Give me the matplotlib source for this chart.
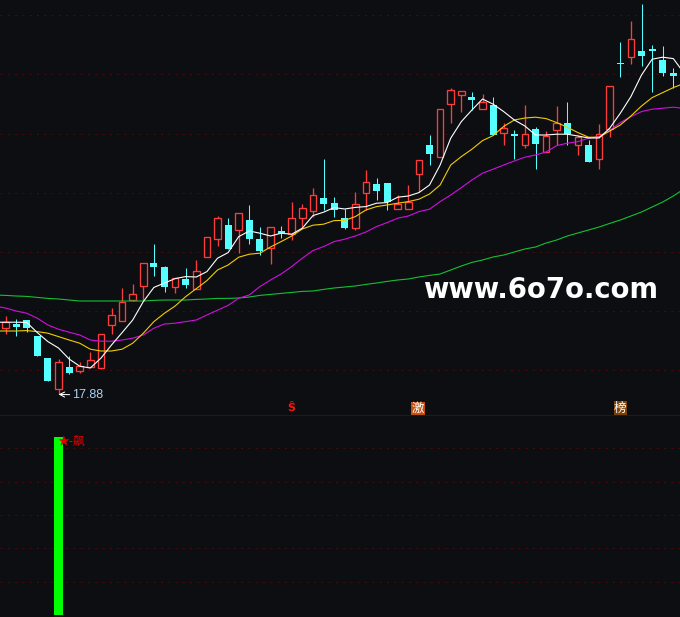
""" Candlestick chart with moving averages and a signal panel below """

import numpy as np
import matplotlib
matplotlib.use('Agg')
import matplotlib.pyplot as plt

# candles
opens = [21.22, 21.40, 21.60, 20.80, 19.70, 18.14, 19.24, 19.04, 19.27, 19.22, 21.37, 21.57, 22.62, 23.32, 24.45, 24.25,
         23.24, 23.64, 23.14, 24.74, 25.64, 26.34, 26.09, 26.60, 25.65, 25.22, 26.05, 25.90, 26.69, 27.04, 27.70, 27.44,
         26.69, 26.18, 27.94, 28.39, 28.45, 27.14, 27.14, 28.89, 30.35, 29.77, 32.39, 32.84, 32.75, 32.17, 32.35, 30.97,
         30.90, 30.34, 31.15, 30.02, 31.09, 31.45, 30.34, 30.35, 29.64, 31.17, 34.45, 34.74, 35.05, 35.15, 34.60, 33.95]
closes = [21.52, 21.25, 21.22, 19.80, 18.57, 19.49, 18.97, 19.30, 19.62, 20.89, 21.84, 22.49, 22.89, 24.44, 24.25, 23.27,
          23.69, 23.37, 24.04, 25.74, 26.69, 25.17, 26.94, 25.67, 25.05, 26.24, 25.92, 26.69, 27.19, 27.84, 27.42, 27.12,
          26.22, 27.39, 28.49, 28.07, 27.49, 27.39, 27.50, 29.59, 29.90, 32.14, 33.09, 33.04, 32.60, 32.52, 30.87, 31.19,
          30.82, 30.89, 30.42, 30.80, 31.44, 30.90, 30.74, 29.52, 30.92, 33.29, 34.42, 35.64, 34.80, 35.07, 33.95, 33.80]
highs = [21.80, 21.65, 21.60, 20.80, 19.70, 19.64, 19.80, 19.49, 20.00, 20.89, 22.20, 23.19, 23.39, 24.44, 25.40, 24.30,
         23.69, 24.20, 24.60, 25.74, 26.80, 26.69, 26.94, 27.35, 26.25, 26.24, 26.30, 27.50, 27.39, 28.20, 29.65, 27.75,
         27.17, 28.00, 29.10, 28.70, 28.45, 27.84, 28.34, 29.59, 30.85, 32.14, 33.20, 33.04, 33.00, 32.90, 32.75, 31.44,
         31.10, 32.34, 31.27, 31.05, 32.30, 32.49, 30.85, 30.60, 31.39, 33.29, 35.50, 36.55, 37.40, 35.35, 35.30, 34.19]
lows = [20.92, 20.82, 21.00, 19.80, 18.57, 17.88, 18.90, 18.97, 19.24, 19.15, 20.90, 21.57, 22.55, 22.60, 23.80, 23.02,
        22.97, 23.22, 23.14, 24.74, 25.32, 25.17, 24.97, 25.42, 24.85, 24.42, 25.72, 25.62, 26.19, 26.77, 27.10, 26.77,
        26.14, 26.10, 27.10, 27.60, 27.10, 27.14, 27.14, 28.02, 29.35, 29.77, 31.45, 32.00, 32.10, 32.17, 30.87, 30.37,
        29.67, 30.20, 29.17, 30.02, 30.34, 30.35, 29.87, 29.52, 29.17, 30.77, 33.75, 34.42, 34.32, 33.00, 33.82, 33.19]

# moving averages, these run one candle past both edges of the window
ma_white = [21.49, 21.49, 21.49, 21.48, 20.97, 20.52, 20.20, 19.65, 19.29, 19.20, 19.69, 20.35, 20.97, 21.60, 22.52, 23.23,
            23.45, 23.67, 23.77, 23.75, 24.02, 24.69, 24.97, 25.77, 26.05, 25.94, 25.80, 25.94, 25.89, 26.19, 26.82, 26.99,
            27.22, 27.15, 27.23, 27.27, 27.44, 27.47, 27.74, 27.80, 27.97, 28.35, 29.35, 30.69, 31.52, 32.10, 32.65, 32.39,
            32.02, 31.60, 31.30, 30.85, 30.85, 30.89, 30.89, 30.80, 30.70, 30.70, 31.19, 31.94, 32.77, 33.85, 34.64, 34.74,
            34.67, 33.95]
ma_yellow = [21.05, 21.05, 21.05, 21.07, 21.02, 20.94, 20.77, 20.60, 20.44, 20.14, 20.05, 20.05, 20.14, 20.44, 20.94, 21.52,
             21.94, 22.30, 22.77, 23.17, 23.57, 24.10, 24.35, 24.74, 24.89, 24.94, 25.25, 25.52, 25.80, 26.15, 26.34, 26.39,
             26.57, 26.58, 26.77, 27.10, 27.27, 27.35, 27.44, 27.52, 27.64, 27.90, 28.35, 29.35, 29.77, 30.14, 30.57, 30.82,
             31.28, 31.60, 31.70, 31.74, 31.67, 31.47, 31.24, 30.97, 30.74, 30.74, 31.05, 31.35, 31.80, 32.30, 32.72, 32.97,
             33.22, 33.43]
ma_magenta = [22.30, 22.20, 22.05, 21.94, 21.69, 21.35, 21.14, 20.99, 20.85, 20.60, 20.54, 20.54, 20.60, 20.69, 20.85, 21.19,
              21.40, 21.44, 21.52, 21.60, 21.85, 22.09, 22.33, 22.69, 22.85, 23.27, 23.60, 23.90, 24.27, 24.69, 25.07, 25.27,
              25.52, 25.64, 25.80, 26.00, 26.27, 26.47, 26.69, 26.80, 27.02, 27.14, 27.52, 27.85, 28.22, 28.60, 28.94, 29.14,
              29.35, 29.55, 29.74, 29.85, 30.00, 30.32, 30.44, 30.52, 30.69, 30.77, 31.07, 31.47, 31.77, 32.02, 32.14, 32.19,
              32.24, 32.18]
ma_green = [22.85, 22.83, 22.80, 22.78, 22.73, 22.68, 22.65, 22.60, 22.55, 22.55, 22.55, 22.55, 22.55, 22.55, 22.55, 22.58,
            22.60, 22.60, 22.60, 22.63, 22.65, 22.68, 22.68, 22.70, 22.75, 22.83, 22.88, 22.93, 22.98, 23.03, 23.05, 23.13,
            23.20, 23.25, 23.30, 23.38, 23.45, 23.53, 23.60, 23.65, 23.75, 23.83, 23.90, 24.10, 24.30, 24.48, 24.60, 24.75,
            24.85, 25.00, 25.15, 25.25, 25.45, 25.60, 25.80, 25.95, 26.10, 26.25, 26.43, 26.60, 26.80, 27.00, 27.25, 27.50,
            27.80, 28.15]

grid_prices = [36.85, 33.90, 30.90, 27.95, 25.00, 22.05, 19.10]
grid_signal = [20, 40, 60, 80, 100]

low_label = '17.88'
low_candle = 5
signal_candle = 5
signal_value = 106.8
signal_text = '★-飙'
watermark = 'www.6o7o.com'

bg = '#0d0e11'
red = '#ff3c3c'
cyan = '#55ffff'
griddark = '#4a0a0a'
gridstyle = (0, (2, 5))
lw = 0.75      # one pixel at dpi 100
lw_box = 0.95  # red outlines, a bit heavier so they stay bright
lw_ma = 0.8    # antialiased curves
cjk = ['Noto Sans CJK SC', 'DejaVu Sans']

W, H = 680, 617
split = 415  # pixel row between the two panels

fig = plt.figure(figsize=(W / 100, H / 100), dpi=100, facecolor=bg)
ax = fig.add_axes([0, (H - split) / H, 1, split / H], facecolor=bg)
ax2 = fig.add_axes([0, 0, 1, (H - split) / H], facecolor=bg)

for a in (ax, ax2):
    a.set_xlim(-0.519, 63.63)
    a.set_xticks([])
    a.set_yticks([])
    for s in a.spines.values():
        s.set_visible(False)

ax.set_ylim(16.85, 37.6)
ax2.set_ylim(-1.2, 120)
ax2.spines['top'].set_visible(True)
ax2.spines['top'].set_color('#5c0000')
ax2.spines['top'].set_linewidth(lw)

# dotted grid
for p in grid_prices:
    ax.axhline(p, color=griddark, lw=lw, ls=gridstyle, zorder=1)
for v in grid_signal:
    ax2.axhline(v, color=griddark, lw=lw, ls=gridstyle, zorder=1)

# candles
x = np.arange(len(opens))
o = np.array(opens)
c = np.array(closes)
hi = np.array(highs)
lo = np.array(lows)
up = c >= o

ax.vlines(x[up], lo[up], hi[up], color=red, lw=lw_box, zorder=2, snap=True)
ax.vlines(x[~up], lo[~up], hi[~up], color=cyan, lw=lw, zorder=2, snap=True)
red_bars = ax.bar(x[up], (c - o)[up], bottom=o[up], width=0.62, facecolor=bg, edgecolor=red, lw=lw_box, zorder=3)
cyan_bars = ax.bar(x[~up], (o - c)[~up], bottom=c[~up], width=0.66, color=cyan, antialiased=False, zorder=3)
for b in list(red_bars) + list(cyan_bars):
    b.set_snap(True)

# moving averages
xma = np.arange(-1, len(opens) + 1)
ax.plot(xma, ma_green, color='#14c034', lw=lw_ma, zorder=4)
ax.plot(xma, ma_magenta, color='#d010e0', lw=lw_ma, zorder=4)
ax.plot(xma, ma_yellow, color='#f0cc00', lw=lw_ma, zorder=5)
ax.plot(xma, ma_white, color='white', lw=lw_ma, zorder=6)

# lowest price label
ax.annotate(low_label, xy=(low_candle, float(low_label)), xytext=(10, -0.5), textcoords='offset points',
            color='#a9d3f5', fontsize=9, family='Liberation Sans', va='center', ha='left',
            arrowprops=dict(arrowstyle='->', color='white', lw=lw, shrinkA=0, shrinkB=0), zorder=7)

# event markers sitting on the panel border
ax.text(27, 17.2, 'Ŝ', color='#ff1010', fontsize=8, fontweight='bold', ha='center', va='center', zorder=7)
ax.text(38.9, 17.17, '激', color='white', fontsize=9, family=cjk, ha='center', va='center', zorder=7,
        bbox=dict(facecolor='#c2500f', edgecolor='none', pad=0.4))
ax.text(58, 17.2, '榜', color='white', fontsize=9, family=cjk, ha='center', va='center', zorder=7,
        bbox=dict(facecolor='#7a4108', edgecolor='none', pad=0.4))

# signal panel
ax2.bar(signal_candle, signal_value, width=0.85, color='#00ff00', antialiased=False, zorder=3)
ax2.text(signal_candle - 0.06, 104.3, signal_text, color='#e80000', fontsize=8.5, family=cjk, ha='left', va='center', zorder=4)

# watermark
fig.text(423 / W, 1 - 298 / H, watermark, color='white', fontsize=19.8, fontweight='bold', family='DejaVu Sans',
         ha='left', va='baseline')

fig.savefig('out.png', dpi=100, facecolor=bg)
